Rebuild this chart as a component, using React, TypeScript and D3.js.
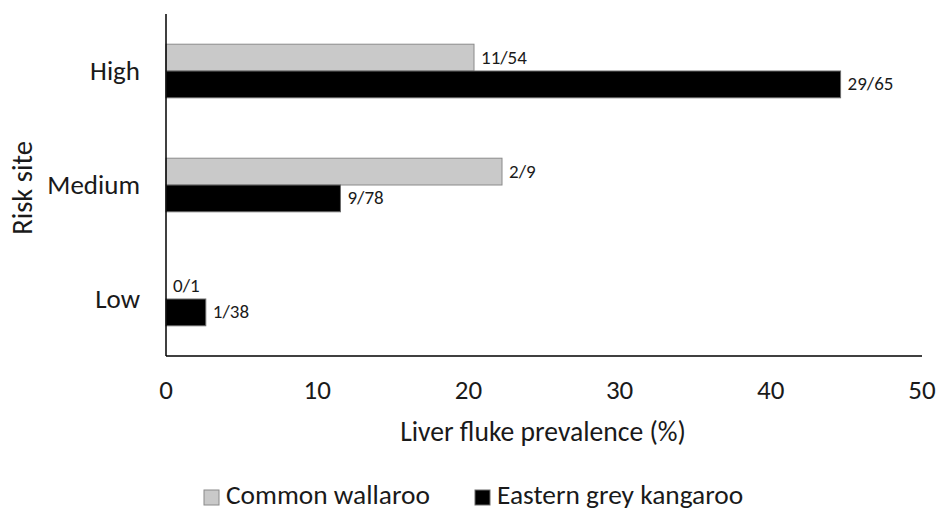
import React from "react";
import * as d3 from "d3";

const riskSites = ["High", "Medium", "Low"];
const seriesNames = ["Common wallaroo", "Eastern grey kangaroo"];
const wallarooPositive = [11, 2, 0];
const wallarooTotal = [54, 9, 1];
const kangarooPositive = [29, 9, 1];
const kangarooTotal = [65, 78, 38];
const xTicks = [0, 10, 20, 30, 40, 50];

const W = 936;
const H = 510;
const FONT = "Carlito, 'Open Sans', Lato, sans-serif";
const INK = "#1a1a1a";

export default function App() {
  const left = 166;
  const right = 922;
  const top = 14;
  const bottom = 356;

  const x = d3.scaleLinear().domain([0, 50]).range([left, right]);
  const y = d3.scaleBand().domain(riskSites).range([top, bottom]).paddingInner(0.53).paddingOuter(0.265);
  const sub = d3.scaleBand().domain(seriesNames).range([0, y.bandwidth()]);

  const series = [
    { name: seriesNames[0], pos: wallarooPositive, tot: wallarooTotal, fill: "#c9c9c9", stroke: "#8a8a8a" },
    { name: seriesNames[1], pos: kangarooPositive, tot: kangarooTotal, fill: "#000000", stroke: "#6a6a6a" },
  ];

  return (
    <svg width={W} height={H} style={{ position: "absolute", left: 0, top: 0, background: "#fff" }} fontFamily={FONT}>
      {series.map((s) =>
        riskSites.map((site, i) => {
          const pct = (s.pos[i] / s.tot[i]) * 100;
          const y0 = (y(site) as number) + (sub(s.name) as number);
          const bh = sub.bandwidth();
          return (
            <g key={s.name + site}>
              {pct > 0 && (
                <rect x={x(0)} y={y0} width={x(pct) - x(0)} height={bh} fill={s.fill} stroke={s.stroke} strokeWidth={1} />
              )}
              <text x={x(pct) + 7} y={y0 + bh / 2} dy="0.32em" fontSize={19} fill={INK}>
                {`${s.pos[i]}/${s.tot[i]}`}
              </text>
            </g>
          );
        })
      )}
      <line x1={left} x2={left} y1={top} y2={bottom} stroke="#000" strokeWidth={1.5} />
      <line x1={left} x2={right} y1={bottom} y2={bottom} stroke="#000" strokeWidth={1.5} />
      {riskSites.map((site) => (
        <text key={site} x={140} y={(y(site) as number) + y.bandwidth() / 2} dy="0.32em" textAnchor="end" fontSize={27} fill={INK}>
          {site}
        </text>
      ))}
      {xTicks.map((t) => (
        <text key={t} x={x(t)} y={390} dy="0.32em" textAnchor="middle" fontSize={27} fill={INK}>
          {t}
        </text>
      ))}
      <text x={543} y={441} textAnchor="middle" fontSize={27.6} fill={INK}>
        Liver fluke prevalence (%)
      </text>
      <text transform={`translate(23,${(top + bottom) / 2 + 3}) rotate(-90)`} dy="0.32em" textAnchor="middle" fontSize={28.5} fill={INK}>
        Risk site
      </text>
      <g>
        <rect x={204} y={490} width={15} height={15} fill="#c9c9c9" stroke="#8a8a8a" />
        <text x={226} y={504} fontSize={27.4} fill={INK}>{seriesNames[0]}</text>
        <rect x={475} y={490} width={15} height={15} fill="#000" stroke="#6a6a6a" />
        <text x={497} y={504} fontSize={27.4} fill={INK}>{seriesNames[1]}</text>
      </g>
    </svg>
  );
}
